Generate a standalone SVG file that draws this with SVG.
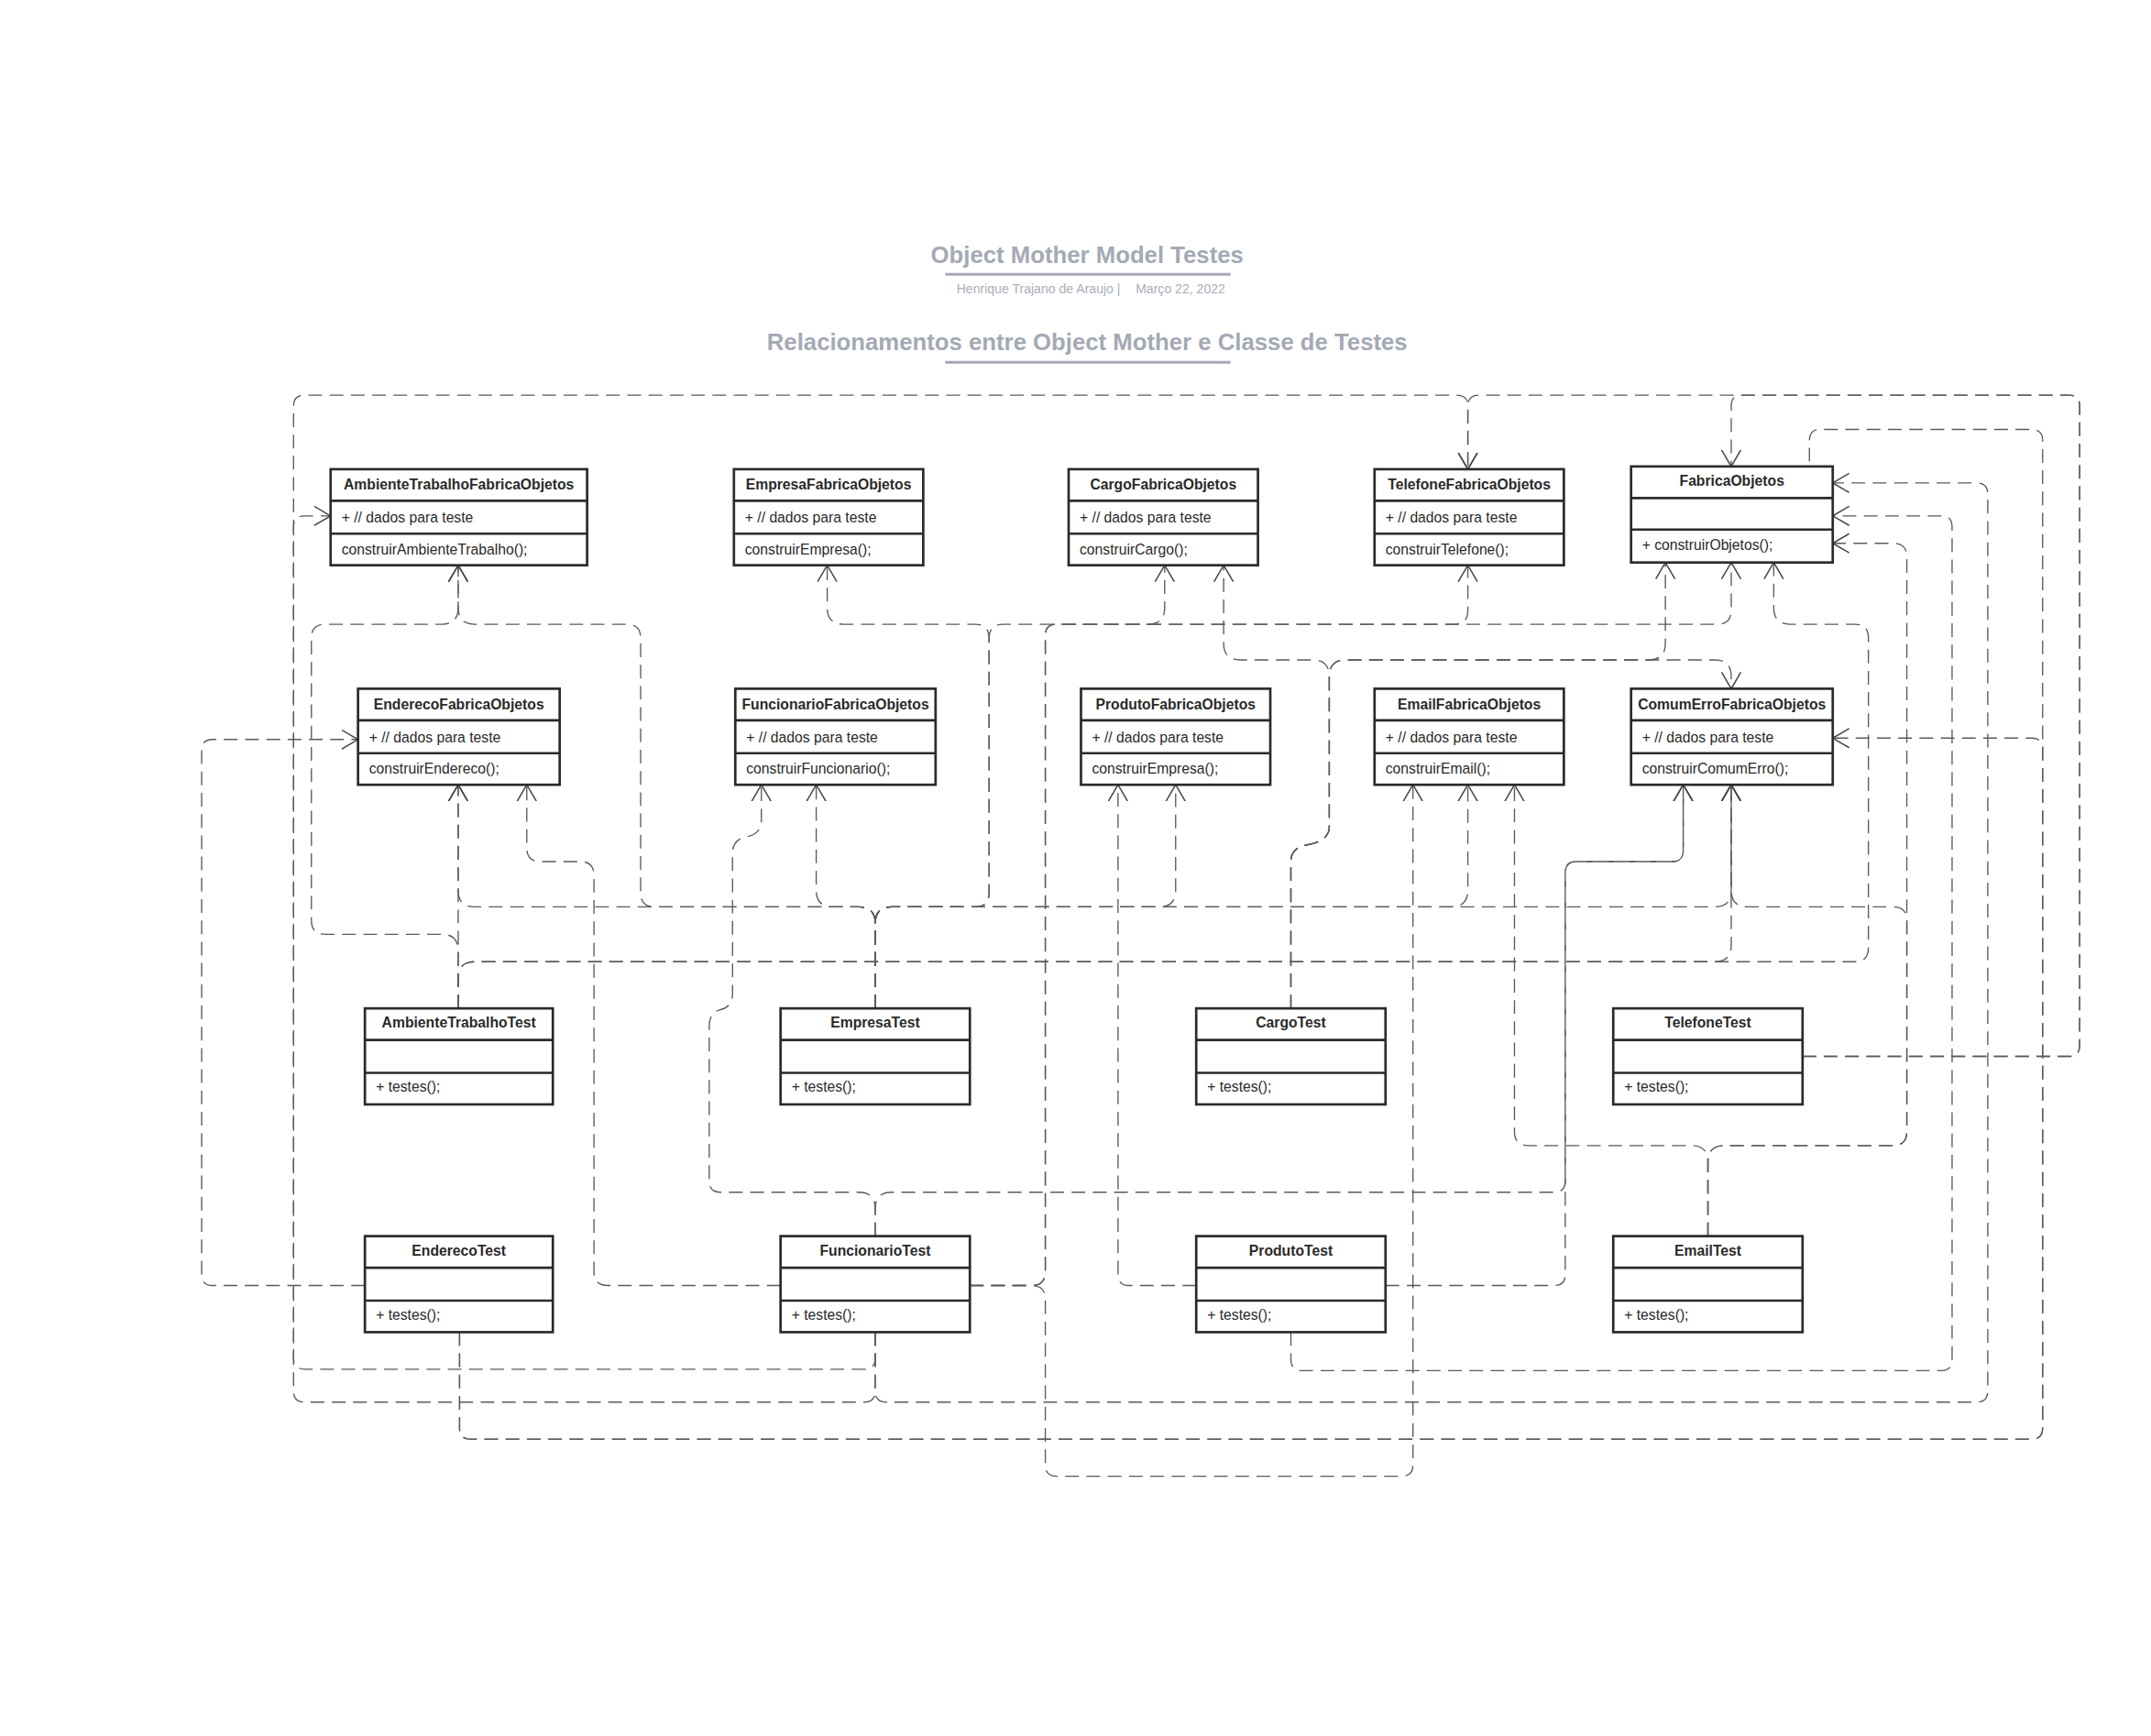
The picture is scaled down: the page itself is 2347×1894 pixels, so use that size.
<svg xmlns="http://www.w3.org/2000/svg" width="2347" height="1894" viewBox="0 0 2347 1894">
<style>
.box{fill:#fff;stroke:#2b2b2b;stroke-width:1.8}
.sep{stroke:#2b2b2b;stroke-width:1.8}
.h{font-family:"Liberation Sans",Arial,sans-serif;font-weight:bold;font-size:10.5px;fill:#2a2a2a;text-anchor:middle}
.t{font-family:"Liberation Sans",Arial,sans-serif;font-size:10.5px;fill:#2a2a2a}
.c{fill:none;stroke:#5a5a5a;stroke-width:0.9;stroke-dasharray:10 5.5}
.ttl{font-family:"Liberation Sans",Arial,sans-serif;font-weight:bold;font-size:17.2px;fill:#a4a9b5;text-anchor:middle}
.sub{font-family:"Liberation Sans",Arial,sans-serif;font-size:9.4px;fill:#a9aeb9;text-anchor:middle}
.ul{stroke:#a4a9b5;stroke-width:2}
</style>
<defs>
<marker id="a" viewBox="0 0 13 16" refX="12" refY="8" markerWidth="13" markerHeight="16" orient="auto" markerUnits="userSpaceOnUse">
<path d="M0,1 L12,8 L0,15" fill="none" stroke="#444" stroke-width="1"/>
</marker>
</defs>
<rect width="2347" height="1894" fill="#fff"/>
<g transform="scale(1.49681)">
<g id="header">
<text class="ttl" x="792.5" y="192">Object Mother Model Testes</text>
<line class="ul" x1="689" y1="200" x2="897" y2="200"/>
<text class="sub" x="757" y="213.5">Henrique Trajano de Araujo |</text>
<text class="sub" x="860.5" y="213.5">Março 22, 2022</text>
<text class="ttl" x="792.5" y="255.5">Relacionamentos entre Object Mother e Classe de Testes</text>
<line class="ul" x1="689" y1="264" x2="897" y2="264"/>
</g>
<g id="connectors">
<path class="c" marker-end="url(#a)" d="M1314,770 H1508 Q1516,770 1516,762 V296 Q1516,288 1508,288 H1078 Q1070,288 1070,296 V342"/>
<path class="c" marker-end="url(#a)" d="M1314,770 H1508 Q1516,770 1516,762 V296 Q1516,288 1508,288 H1270 Q1262,288 1262,296 V340"/>
<path class="c" marker-end="url(#a)" d="M638,971 V990 Q638,998 630,998 H222 Q214,998 214,990 V296 Q214,288 222,288 H1062 Q1070,288 1070,296 V342"/>
<path class="c" marker-end="url(#a)" d="M638,971 V1014 Q638,1022 630,1022 H222 Q214,1022 214,1014 V384 Q214,376 222,376 H241"/>
<path class="c" marker-end="url(#a)" d="M638,971 V1014 Q638,1022 646,1022 H1441 Q1449,1022 1449,1014 V360 Q1449,352 1441,352 H1336"/>
<path class="c" d="M335,971 V1041 Q335,1049 343,1049 H1481 Q1489,1049 1489,1041 V321 Q1489,313 1481,313 H1327 Q1319,313 1319,321 V340"/>
<path class="c" marker-end="url(#a)" d="M335,971 V1041 Q335,1049 343,1049 H1481 Q1489,1049 1489,1041 V546 Q1489,538 1481,538 H1336"/>
<path class="c" marker-end="url(#a)" d="M266,937 H155 Q147,937 147,929 V547 Q147,539 155,539 H261"/>
<path class="c" marker-end="url(#a)" d="M941,971 V991 Q941,999 949,999 H1415 Q1423,999 1423,991 V384 Q1423,376 1415,376 H1336"/>
<path class="c" marker-end="url(#a)" d="M872,937 H823 Q815,937 815,929 V572"/>
<path class="c" marker-end="url(#a)" d="M1010,937 H1133 Q1141,937 1141,929 V636 Q1141,628 1149,628 H1219 Q1227,628 1227,620 V572"/>
<path class="c" marker-end="url(#a)" d="M638,901 V881 Q638,869 650,869 H1133 Q1141,869 1141,861 V636 Q1141,628 1149,628 H1219 Q1227,628 1227,620 V572"/>
<path class="c" marker-end="url(#a)" d="M638,901 V881 Q638,869 626,869 H525 Q517,869 517,861 V748 Q517,738 525,736 Q534,734 534,724 V622 Q534,612 544,610 Q555,608 555,598 V572"/>
<path class="c" marker-end="url(#a)" d="M569,937 H443 Q433,937 433,927 V638 Q433,628 423,628 H394 Q384,628 384,618 V572"/>
<path class="c" marker-end="url(#a)" d="M707,937 H752 Q762,937 762,947 V1068 Q762,1076 770,1076 H1022 Q1030,1076 1030,1068 V572"/>
<path class="c" marker-end="url(#a)" d="M707,937 H752 Q762,937 762,927 V463 Q762,455 770,455 H1060 Q1070,455 1070,445 V412"/>
<path class="c" marker-end="url(#a)" d="M707,937 H752 Q762,937 762,927 V463 Q762,455 770,455 H1252 Q1262,455 1262,445 V410"/>
<path class="c" marker-end="url(#a)" d="M941,735 V628 Q941,618 952,616 Q969,613 969,603 V493 Q969,481 957,481 H904 Q892,481 892,469 V412"/>
<path class="c" marker-end="url(#a)" d="M941,735 V628 Q941,618 952,616 Q969,613 969,603 V493 Q969,481 981,481 H1250 Q1262,481 1262,493 V502"/>
<path class="c" marker-end="url(#a)" d="M941,735 V628 Q941,618 952,616 Q969,613 969,603 V493 Q969,481 981,481 H1202 Q1214,481 1214,469 V410"/>
<path class="c" marker-end="url(#a)" d="M334,735 V713 Q334,701 346,701 H1352 Q1362,701 1362,691 V465 Q1362,455 1352,455 H1305 Q1293,455 1293,443 V410"/>
<path class="c" marker-end="url(#a)" d="M334,735 V713 Q334,701 346,701 H1250 Q1262,701 1262,689 V572"/>
<path class="c" marker-end="url(#a)" d="M334,735 V693 Q334,681 322,681 H237 Q227,681 227,671 V465 Q227,455 237,455 H322 Q334,455 334,443 V412"/>
<path class="c" marker-end="url(#a)" d="M334,735 V572"/>
<path class="c" marker-end="url(#a)" d="M638,735 V673 Q638,661 626,661 H477 Q467,661 467,651 V465 Q467,455 457,455 H346 Q334,455 334,443 V412"/>
<path class="c" marker-end="url(#a)" d="M638,735 V673 Q638,661 650,661 H711 Q721,661 721,651 V465 Q721,455 711,455 H615 Q603,455 603,443 V412"/>
<path class="c" marker-end="url(#a)" d="M638,735 V673 Q638,661 650,661 H711 Q721,661 721,651 V465 Q721,455 731,455 H837 Q849,455 849,443 V412"/>
<path class="c" marker-end="url(#a)" d="M638,735 V673 Q638,661 626,661 H346 Q334,661 334,649 V572"/>
<path class="c" marker-end="url(#a)" d="M638,735 V673 Q638,661 626,661 H607 Q595,661 595,649 V572"/>
<path class="c" marker-end="url(#a)" d="M638,735 V673 Q638,661 650,661 H845 Q857,661 857,649 V572"/>
<path class="c" marker-end="url(#a)" d="M638,735 V673 Q638,661 650,661 H1058 Q1070,661 1070,649 V572"/>
<path class="c" marker-end="url(#a)" d="M638,735 V673 Q638,661 650,661 H1250 Q1262,661 1262,649 V572"/>
<path class="c" marker-end="url(#a)" d="M1245,901 V847 Q1245,835 1257,835 H1380 Q1390,835 1390,825 V406 Q1390,396 1380,396 H1336"/>
<path class="c" marker-end="url(#a)" d="M1245,901 V847 Q1245,835 1233,835 H1114 Q1104,835 1104,825 V572"/>
<path class="c" marker-end="url(#a)" d="M1245,901 V847 Q1245,835 1257,835 H1380 Q1390,835 1390,825 V671 Q1390,661 1380,661 H1274 Q1262,661 1262,649 V572"/>
</g>
<g id="AmbienteTrabalhoFabricaObjetos">
<rect class="box" x="241" y="342" width="187" height="70"/>
<line class="sep" x1="241" y1="365" x2="428" y2="365"/><line class="sep" x1="241" y1="389" x2="428" y2="389"/>
<text class="h" x="334.5" y="357">AmbienteTrabalhoFabricaObjetos</text>
<text class="t" x="249" y="381">+ // dados para teste</text>
<text class="t" x="249" y="404">construirAmbienteTrabalho();</text>
</g>
<g id="EmpresaFabricaObjetos">
<rect class="box" x="535" y="342" width="138" height="70"/>
<line class="sep" x1="535" y1="365" x2="673" y2="365"/><line class="sep" x1="535" y1="389" x2="673" y2="389"/>
<text class="h" x="604" y="357">EmpresaFabricaObjetos</text>
<text class="t" x="543" y="381">+ // dados para teste</text>
<text class="t" x="543" y="404">construirEmpresa();</text>
</g>
<g id="CargoFabricaObjetos">
<rect class="box" x="779" y="342" width="138" height="70"/>
<line class="sep" x1="779" y1="365" x2="917" y2="365"/><line class="sep" x1="779" y1="389" x2="917" y2="389"/>
<text class="h" x="848" y="357">CargoFabricaObjetos</text>
<text class="t" x="787" y="381">+ // dados para teste</text>
<text class="t" x="787" y="404">construirCargo();</text>
</g>
<g id="TelefoneFabricaObjetos">
<rect class="box" x="1002" y="342" width="138" height="70"/>
<line class="sep" x1="1002" y1="365" x2="1140" y2="365"/><line class="sep" x1="1002" y1="389" x2="1140" y2="389"/>
<text class="h" x="1071" y="357">TelefoneFabricaObjetos</text>
<text class="t" x="1010" y="381">+ // dados para teste</text>
<text class="t" x="1010" y="404">construirTelefone();</text>
</g>
<g id="FabricaObjetos">
<rect class="box" x="1189" y="340" width="147" height="70"/>
<line class="sep" x1="1189" y1="363" x2="1336" y2="363"/><line class="sep" x1="1189" y1="386" x2="1336" y2="386"/>
<text class="h" x="1262.5" y="354">FabricaObjetos</text>
<text class="t" x="1197" y="401">+ construirObjetos();</text>
</g>
<g id="EnderecoFabricaObjetos">
<rect class="box" x="261" y="502" width="147" height="70"/>
<line class="sep" x1="261" y1="525" x2="408" y2="525"/><line class="sep" x1="261" y1="549" x2="408" y2="549"/>
<text class="h" x="334.5" y="517">EnderecoFabricaObjetos</text>
<text class="t" x="269" y="541">+ // dados para teste</text>
<text class="t" x="269" y="564">construirEndereco();</text>
</g>
<g id="FuncionarioFabricaObjetos">
<rect class="box" x="536" y="502" width="146" height="70"/>
<line class="sep" x1="536" y1="525" x2="682" y2="525"/><line class="sep" x1="536" y1="549" x2="682" y2="549"/>
<text class="h" x="609" y="517">FuncionarioFabricaObjetos</text>
<text class="t" x="544" y="541">+ // dados para teste</text>
<text class="t" x="544" y="564">construirFuncionario();</text>
</g>
<g id="ProdutoFabricaObjetos">
<rect class="box" x="788" y="502" width="138" height="70"/>
<line class="sep" x1="788" y1="525" x2="926" y2="525"/><line class="sep" x1="788" y1="549" x2="926" y2="549"/>
<text class="h" x="857" y="517">ProdutoFabricaObjetos</text>
<text class="t" x="796" y="541">+ // dados para teste</text>
<text class="t" x="796" y="564">construirEmpresa();</text>
</g>
<g id="EmailFabricaObjetos">
<rect class="box" x="1002" y="502" width="138" height="70"/>
<line class="sep" x1="1002" y1="525" x2="1140" y2="525"/><line class="sep" x1="1002" y1="549" x2="1140" y2="549"/>
<text class="h" x="1071" y="517">EmailFabricaObjetos</text>
<text class="t" x="1010" y="541">+ // dados para teste</text>
<text class="t" x="1010" y="564">construirEmail();</text>
</g>
<g id="ComumErroFabricaObjetos">
<rect class="box" x="1189" y="502" width="147" height="70"/>
<line class="sep" x1="1189" y1="525" x2="1336" y2="525"/><line class="sep" x1="1189" y1="549" x2="1336" y2="549"/>
<text class="h" x="1262.5" y="517">ComumErroFabricaObjetos</text>
<text class="t" x="1197" y="541">+ // dados para teste</text>
<text class="t" x="1197" y="564">construirComumErro();</text>
</g>
<g id="AmbienteTrabalhoTest">
<rect class="box" x="266" y="735" width="137" height="70"/>
<line class="sep" x1="266" y1="758" x2="403" y2="758"/><line class="sep" x1="266" y1="782" x2="403" y2="782"/>
<text class="h" x="334.5" y="749">AmbienteTrabalhoTest</text>
<text class="t" x="274" y="796">+ testes();</text>
</g>
<g id="EmpresaTest">
<rect class="box" x="569" y="735" width="138" height="70"/>
<line class="sep" x1="569" y1="758" x2="707" y2="758"/><line class="sep" x1="569" y1="782" x2="707" y2="782"/>
<text class="h" x="638" y="749">EmpresaTest</text>
<text class="t" x="577" y="796">+ testes();</text>
</g>
<g id="CargoTest">
<rect class="box" x="872" y="735" width="138" height="70"/>
<line class="sep" x1="872" y1="758" x2="1010" y2="758"/><line class="sep" x1="872" y1="782" x2="1010" y2="782"/>
<text class="h" x="941" y="749">CargoTest</text>
<text class="t" x="880" y="796">+ testes();</text>
</g>
<g id="TelefoneTest">
<rect class="box" x="1176" y="735" width="138" height="70"/>
<line class="sep" x1="1176" y1="758" x2="1314" y2="758"/><line class="sep" x1="1176" y1="782" x2="1314" y2="782"/>
<text class="h" x="1245" y="749">TelefoneTest</text>
<text class="t" x="1184" y="796">+ testes();</text>
</g>
<g id="EnderecoTest">
<rect class="box" x="266" y="901" width="137" height="70"/>
<line class="sep" x1="266" y1="924" x2="403" y2="924"/><line class="sep" x1="266" y1="948" x2="403" y2="948"/>
<text class="h" x="334.5" y="915">EnderecoTest</text>
<text class="t" x="274" y="962">+ testes();</text>
</g>
<g id="FuncionarioTest">
<rect class="box" x="569" y="901" width="138" height="70"/>
<line class="sep" x1="569" y1="924" x2="707" y2="924"/><line class="sep" x1="569" y1="948" x2="707" y2="948"/>
<text class="h" x="638" y="915">FuncionarioTest</text>
<text class="t" x="577" y="962">+ testes();</text>
</g>
<g id="ProdutoTest">
<rect class="box" x="872" y="901" width="138" height="70"/>
<line class="sep" x1="872" y1="924" x2="1010" y2="924"/><line class="sep" x1="872" y1="948" x2="1010" y2="948"/>
<text class="h" x="941" y="915">ProdutoTest</text>
<text class="t" x="880" y="962">+ testes();</text>
</g>
<g id="EmailTest">
<rect class="box" x="1176" y="901" width="138" height="70"/>
<line class="sep" x1="1176" y1="924" x2="1314" y2="924"/><line class="sep" x1="1176" y1="948" x2="1314" y2="948"/>
<text class="h" x="1245" y="915">EmailTest</text>
<text class="t" x="1184" y="962">+ testes();</text>
</g>
</g>
</svg>
